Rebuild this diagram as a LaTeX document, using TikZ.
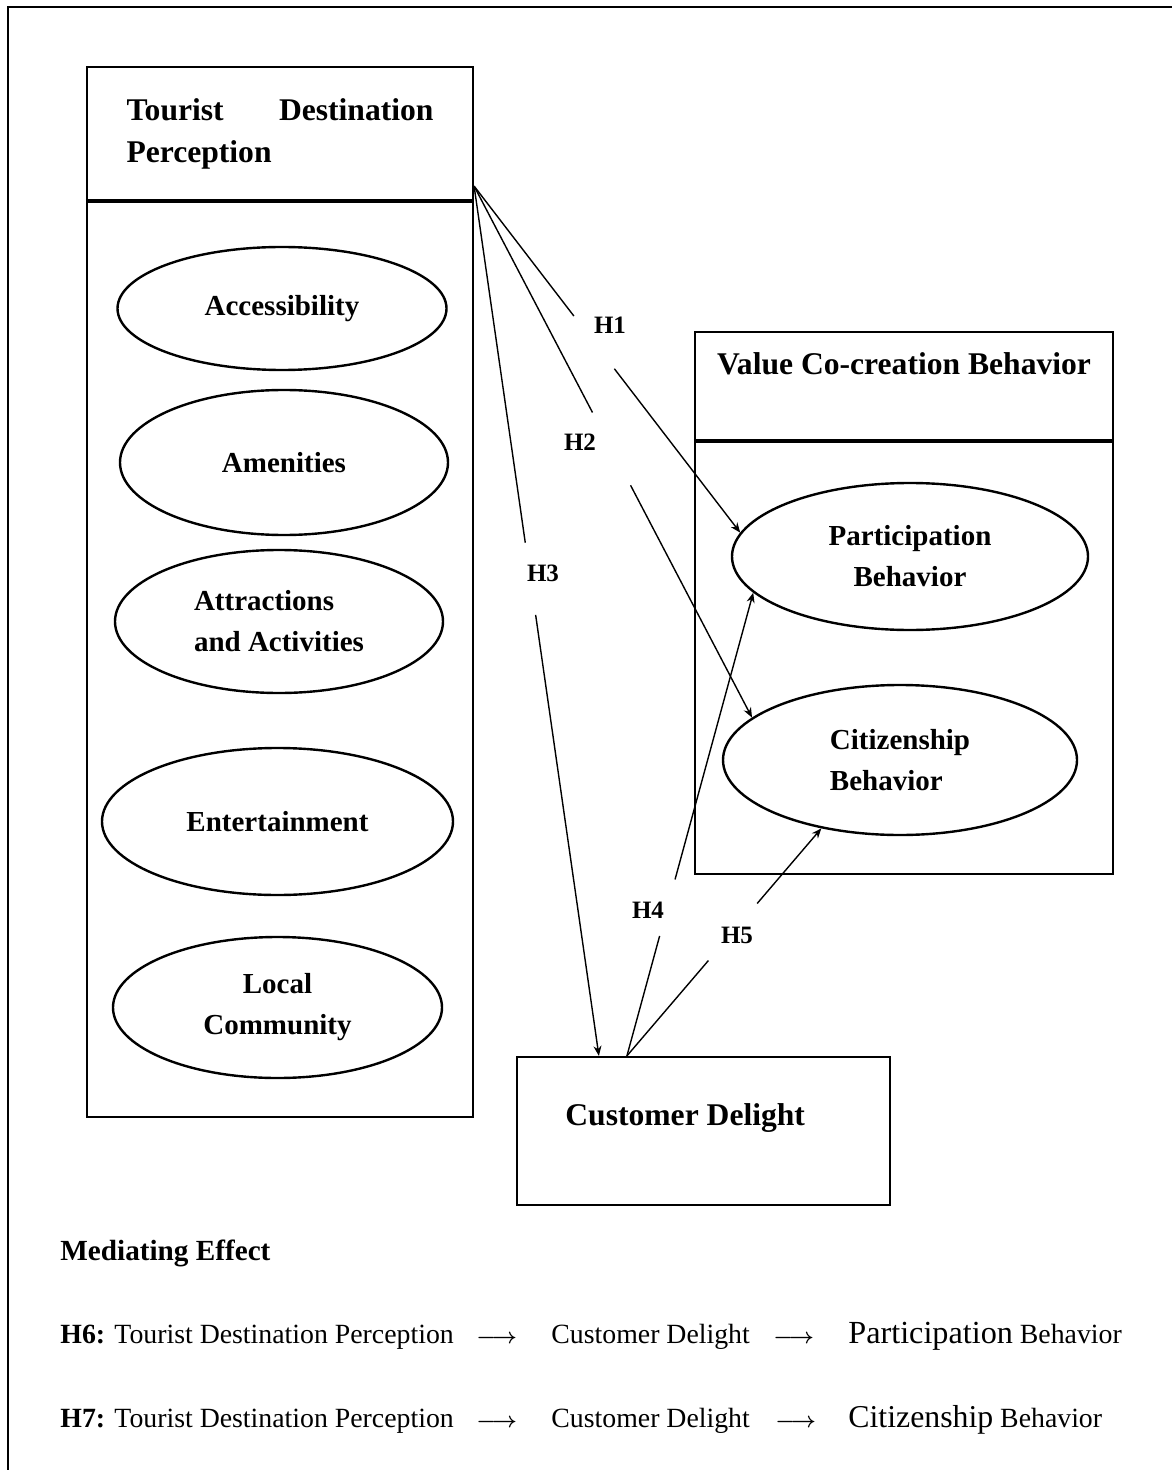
\documentclass[tikz,border=0pt]{standalone}
\usepackage{fontspec}
\setmainfont{Liberation Serif}
\usepackage{tikz}
\usetikzlibrary{shapes, arrows.meta, positioning, calc}

\begin{document}
\begin{tikzpicture}[x=0.5pt, y=-0.5pt,
    box/.style={draw, line width=1.1pt, inner sep=0pt},
    oval/.style={draw, ellipse, line width=1.2pt, inner sep=0pt, align=center,
      font=\fontsize{14.5}{20.5}\selectfont\bfseries},
    headtxt/.style={inner sep=0pt, font=\fontsize{15.8}{21}\selectfont\bfseries},
    link/.style={line width=0.7pt, -{Stealth[length=5pt, width=4pt]}},
    hlab/.style={inner sep=1pt, font=\fontsize{12.5}{14}\selectfont\bfseries},
    medtxt/.style={anchor=base west, inner sep=0pt, font=\fontsize{13.9}{16}\selectfont},
    medarrow/.style={medtxt, font=\fontsize{11}{13}\selectfont\boldmath}]

  \useasboundingbox (0,0) rectangle (1172,1470);
  \draw[line width=1pt] (8,1470) -- (8,7) -- (1172,7);

  % tourist destination perception
  \node[box, headtxt, minimum width=193pt, minimum height=66.5pt,
        text width=153.5pt, align=left] (tdp) at (280,133.5)
        {Tourist \hfill Destination\\Perception};
  \node[box, minimum width=193pt, minimum height=457.5pt, below=0pt of tdp] (tdpbody) {};
  \draw[line width=1.8pt] (tdp.south west) -- (tdp.south east);

  \node[oval, minimum width=164.5pt, minimum height=61.5pt] (acc) at (282,308.5) {Accessibility};
  \node[oval, minimum width=164pt, minimum height=72.5pt] (amen) at (284,462.5) {Amenities};
  \node[oval, minimum width=164pt, minimum height=71.5pt, align=left] (attr) at (279,621.5)
        {Attractions\\and Activities};
  \node[oval, minimum width=175.5pt, minimum height=73.5pt] (ent) at (277.5,821.5) {Entertainment};
  \node[oval, minimum width=164.5pt, minimum height=70.5pt] (loc) at (277.5,1007.5) {Local\\Community};

  % value co-creation behavior
  \node[box, minimum width=209pt, minimum height=54pt] (vcb) at (904,386) {};
  \node[headtxt, anchor=base] (vcbtxt) at (904,375) {Value Co-creation Behavior};
  \node[box, minimum width=209pt, minimum height=216pt, below=0pt of vcb] (vcbbody) {};
  \draw[line width=1.8pt] (vcb.south west) -- (vcb.south east);

  \node[oval, minimum width=178pt, minimum height=73.5pt] (pb) at (910,556.5) {Participation\\Behavior};
  \node[oval, minimum width=177pt, minimum height=75pt, align=left] (cb) at (900,760) {Citizenship\\Behavior};

  % customer delight
  \node[box, minimum width=186.5pt, minimum height=74pt] (cd) at (703.5,1131) {};
  \node[headtxt, anchor=base west] (cdtxt) at (565,1125) {Customer Delight};

  % hypotheses
  \coordinate (tdpout) at ($(tdp.south east)+(0,-15)$);
  \coordinate (cdin) at ($(cd.north west)+(83,0)$);
  \coordinate (cdout) at ($(cd.north west)+(111,0)$);

  \draw[link] (tdpout) -- ($(tdpout)!.375!(pb.172)$) ($(tdpout)!.527!(pb.172)$) -- (pb.172);
  \draw[link] (tdpout) -- ($(tdpout)!.426!(cb.164)$) ($(tdpout)!.563!(cb.164)$) -- (cb.164);
  \draw[link] (tdpout) -- ($(tdpout)!.41!(cdin)$) ($(tdpout)!.493!(cdin)$) -- (cdin);
  \draw[link] (cdout) -- ($(cdout)!.259!(pb.193)$) ($(cdout)!.381!(pb.193)$) -- (pb.193);
  \draw[link] (cdout) -- ($(cdout)!.419!(cb.221)$) ($(cdout)!.67!(cb.221)$) -- (cb.221);

  \node[hlab] (h1) at (610,325) {H1};
  \node[hlab] (h2) at (580,442) {H2};
  \node[hlab] (h3) at (543,573) {H3};
  \node[hlab] (h4) at (648,910) {H4};
  \node[hlab] (h5) at (737,935) {H5};

  % mediating effect
  \node[anchor=base west, inner sep=0pt, font=\fontsize{14.6}{17}\selectfont\bfseries] (medtitle)
        at (60,1260) {Mediating Effect};

  \node[medtxt] (h6a) at (60,1343) {\textbf{H6:} Tourist Destination Perception};
  \node[medarrow] (h6b) at (476,1343) {$\longrightarrow$};
  \node[medtxt] (h6c) at (551,1343) {Customer Delight};
  \node[medarrow] (h6d) at (773,1343) {$\longrightarrow$};
  \node[medtxt] (h6e) at (848,1343) {{\fontsize{16.1}{18}\selectfont Participation} Behavior};

  \node[medtxt] (h7a) at (60,1427) {\textbf{H7:} Tourist Destination Perception};
  \node[medarrow] (h7b) at (476,1427) {$\longrightarrow$};
  \node[medtxt] (h7c) at (551,1427) {Customer Delight};
  \node[medarrow] (h7d) at (775,1427) {$\longrightarrow$};
  \node[medtxt] (h7e) at (848,1427) {{\fontsize{15.9}{18}\selectfont Citizenship} Behavior};
\end{tikzpicture}
\end{document}
